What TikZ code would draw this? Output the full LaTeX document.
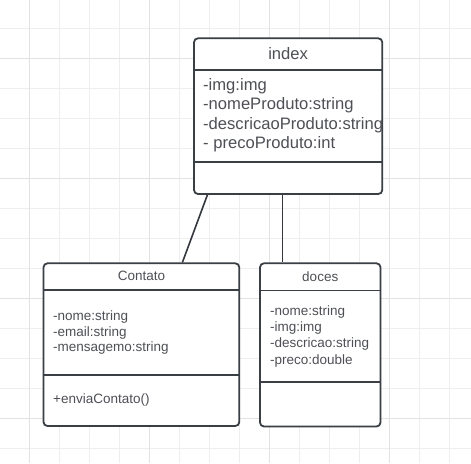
\documentclass[tikz,border=0pt]{standalone}
\usepackage{fontspec}
\setmainfont{Liberation Sans}
\usetikzlibrary{calc}
\definecolor{boxline}{HTML}{3A3E45}
\definecolor{txt}{HTML}{4E5055}
\definecolor{gridminor}{HTML}{EEEEEE}
\definecolor{gridmajor}{HTML}{E2E2E2}
\tikzset{
  umlbox/.style={draw=boxline, line width=1.8pt, rounded corners=4pt, inner sep=0pt, fill=white},
  divider/.style={draw=boxline, line width=1.8pt},
  conn/.style={draw=boxline!90!black, line width=1.6pt},
  bigtxt/.style={anchor=west, inner sep=0pt, text=txt, font=\fontsize{16.6}{18}\selectfont},
  smalltxt/.style={anchor=west, inner sep=0pt, text=txt, font=\fontsize{13.5}{15}\selectfont},
  bigtitle/.style={inner sep=0pt, text=txt, font=\fontsize{16.6}{18}\selectfont},
  smalltitle/.style={inner sep=0pt, text=txt, font=\fontsize{13.5}{15}\selectfont},
}
\begin{document}
\begin{tikzpicture}[x=1pt,y=-1pt]
\useasboundingbox (0,0) rectangle (471,463);
\fill[white] (0,0) rectangle (471,463);
% grid
\foreach \i in {0,...,15} {
  \draw[gridminor, line width=1pt] ({-0.7+30*\i},0) -- ({-0.7+30*\i},463);
  \draw[gridminor, line width=1pt] (0,{28.3+30*\i}) -- (471,{28.3+30*\i});
}
\foreach \xx in {29.3,149.3,269.3,389.3} \draw[gridmajor, line width=1pt] (\xx,0) -- (\xx,463);
\foreach \yy in {58.3,178.3,298.3,418.3} \draw[gridmajor, line width=1pt] (0,\yy) -- (471,\yy);

% index
\node[umlbox, minimum width=188.3pt, minimum height=155.7pt] (index) at (288.15,116.15) {};
\draw[divider] (index.west |- 0,70) -- (index.east |- 0,70);
\draw[divider] (index.west |- 0,161.7) -- (index.east |- 0,161.7);
\node[bigtitle] (indext) at (288.15,53.2) {index};
\node[bigtxt] (i1) at (203,86) {-img:img};
\node[bigtxt] (i2) at (203,105.5) {-nomeProduto:string};
\node[bigtxt] (i3) at (203,125) {-descricaoProduto:string};
\node[bigtxt] (i4) at (203,144.5) {- precoProduto:int};

% Contato
\node[umlbox, minimum width=195.8pt, minimum height=162.7pt] (contato) at (141.4,344.65) {};
\draw[divider] (contato.west |- 0,290) -- (contato.east |- 0,290);
\draw[divider] (contato.west |- 0,375) -- (contato.east |- 0,375);
\node[smalltitle] (contatot) at (141.4,276.2) {Contato};
\node[smalltxt] (c1) at (53,316.7) {-nome:string};
\node[smalltxt] (c2) at (53,332.6) {-email:string};
\node[smalltxt] (c3) at (53,348.5) {-mensagemo:string};
\node[smalltxt] (c4) at (53,400.5) {+enviaContato()};

% doces
\node[umlbox, minimum width=120.5pt, minimum height=163.2pt] (doces) at (320.25,344.9) {};
\draw[divider] (doces.west |- 0,290.5) -- (doces.east |- 0,290.5);
\draw[divider] (doces.west |- 0,382.3) -- (doces.east |- 0,382.3);
\node[smalltitle] (docest) at (320.25,276.2) {doces};
\node[smalltxt] (d1) at (270,312.3) {-nome:string};
\node[smalltxt] (d2) at (270,328.4) {-img:img};
\node[smalltxt] (d3) at (270,344.5) {-descricao:string};
\node[smalltxt] (d4) at (270,360.6) {-preco:double};

% connectors
\draw[conn] ($(index.south west)+(14.3,0)$) -- ($(contato.north west)+(139.8,0)$);
\draw[conn] ($(index.south west)+(89.3,0)$) -- ($(doces.north west)+(23.3,0)$);
\end{tikzpicture}
\end{document}
